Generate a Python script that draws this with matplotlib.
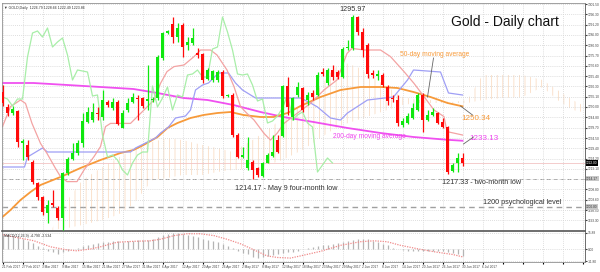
import matplotlib
matplotlib.use("Agg")
import matplotlib.pyplot as plt
import numpy as np

plt.rcParams['font.family'] = ['Liberation Sans', 'DejaVu Sans']
plt.rcParams['hatch.linewidth'] = 0.5

# ---- daily candles (93 bars) ----
opens = [1257.5, 1250.0, 1247.0, 1248.0, 1232.0, 1231.0, 1222.5, 1212.0, 1205.0, 1197.0,
         1202.0, 1199.5, 1194.5, 1217.0, 1224.0, 1227.0, 1232.0, 1242.5, 1243.5, 1247.0,
         1245.0, 1252.5, 1249.5, 1252.5, 1239.5, 1248.5, 1252.5, 1254.5, 1254.5, 1253.0,
         1253.5, 1254.5, 1274.5, 1287.0, 1291.5, 1285.0, 1291.0, 1281.0, 1282.0, 1277.0,
         1276.5, 1264.0, 1263.5, 1263.5, 1267.5, 1255.5, 1256.0, 1236.0, 1225.0, 1219.5,
         1222.5, 1219.5, 1215.5, 1222.0, 1225.5, 1233.5, 1235.5, 1260.5, 1245.0, 1256.0,
         1259.5, 1253.5, 1257.0, 1256.0, 1267.5, 1262.0, 1268.5, 1267.5, 1265.0, 1279.5,
         1279.5, 1295.0, 1287.5, 1281.0, 1267.0, 1265.5, 1266.0, 1260.0, 1254.5, 1253.5,
         1241.0, 1242.0, 1244.5, 1248.5, 1256.0, 1243.5, 1246.0, 1247.0, 1242.5, 1240.0,
         1218.0, 1222.0, 1224.5]
highs = [1261.0, 1251.5, 1250.5, 1248.5, 1234.0, 1233.5, 1223.5, 1212.5, 1205.5, 1203.5,
         1208.5, 1200.5, 1217.5, 1225.0, 1232.0, 1233.5, 1247.0, 1250.0, 1252.0, 1250.0,
         1258.5, 1253.5, 1254.5, 1253.5, 1248.5, 1254.5, 1257.0, 1256.0, 1255.0, 1271.0,
         1255.0, 1276.0, 1287.5, 1288.5, 1295.0, 1292.0, 1292.0, 1285.0, 1289.5, 1279.5,
         1277.0, 1269.5, 1268.5, 1268.5, 1268.5, 1256.5, 1257.0, 1237.0, 1230.0, 1235.0,
         1223.5, 1220.0, 1222.5, 1227.0, 1236.0, 1236.0, 1261.0, 1265.0, 1255.0, 1262.5,
         1260.0, 1257.5, 1258.5, 1267.5, 1269.5, 1269.5, 1271.0, 1268.5, 1280.0, 1283.5,
         1295.97, 1295.5, 1289.5, 1282.0, 1268.5, 1268.5, 1267.0, 1261.0, 1256.0, 1256.0,
         1244.5, 1247.0, 1252.0, 1257.0, 1257.0, 1248.5, 1249.5, 1247.5, 1244.5, 1240.5,
         1222.0, 1227.0, 1227.0]
lows = [1250.5, 1245.5, 1246.0, 1230.0, 1223.5, 1223.5, 1211.5, 1203.5, 1196.0, 1192.0,
        1200.0, 1193.5, 1188.5, 1216.0, 1223.5, 1226.0, 1230.0, 1242.0, 1242.5, 1243.5,
        1243.5, 1250.0, 1248.5, 1241.0, 1239.5, 1247.5, 1252.0, 1243.5, 1249.5, 1248.5,
        1252.5, 1253.5, 1273.5, 1286.5, 1282.0, 1282.5, 1275.0, 1278.5, 1281.0, 1274.5,
        1262.0, 1263.5, 1262.5, 1262.5, 1254.5, 1255.0, 1235.0, 1224.5, 1224.5, 1218.5,
        1214.17, 1215.0, 1215.0, 1222.0, 1225.0, 1227.0, 1235.0, 1246.0, 1243.5, 1255.0,
        1247.5, 1251.0, 1253.5, 1255.5, 1265.5, 1261.0, 1263.5, 1264.0, 1264.5, 1278.5,
        1278.5, 1286.0, 1275.0, 1264.5, 1264.5, 1263.5, 1260.0, 1251.0, 1252.5, 1240.5,
        1240.0, 1241.5, 1244.0, 1248.0, 1237.5, 1243.0, 1245.5, 1241.5, 1239.5, 1216.5,
        1217.5, 1217.33, 1220.5]
closes = [1252.0, 1247.0, 1249.0, 1232.5, 1233.0, 1225.0, 1212.5, 1205.0, 1197.5, 1201.0,
          1201.0, 1194.5, 1217.0, 1224.0, 1227.0, 1232.0, 1243.0, 1247.5, 1247.5, 1246.5,
          1253.5, 1251.0, 1252.5, 1241.5, 1247.0, 1252.0, 1255.0, 1254.0, 1250.5, 1254.0,
          1254.0, 1275.0, 1287.0, 1288.0, 1285.0, 1289.5, 1280.0, 1282.5, 1284.5, 1276.0,
          1263.5, 1268.5, 1268.0, 1267.5, 1255.5, 1256.0, 1236.0, 1225.0, 1226.0, 1223.5,
          1218.5, 1216.0, 1222.0, 1226.0, 1227.5, 1227.5, 1260.5, 1250.0, 1254.5, 1260.0,
          1248.5, 1256.0, 1255.0, 1266.0, 1266.5, 1268.5, 1265.0, 1265.0, 1279.0, 1280.0,
          1295.0, 1287.5, 1278.5, 1266.5, 1266.0, 1266.5, 1261.0, 1253.0, 1254.0, 1242.0,
          1243.0, 1245.5, 1249.5, 1256.0, 1243.5, 1246.0, 1247.5, 1242.0, 1240.0, 1217.5,
          1221.0, 1224.5, 1222.0]

date_labels = ['21 Feb 2017', '27 Feb 2017', '3 Mar 2017', '9 Mar 2017', '15 Mar 2017',
               '21 Mar 2017', '27 Mar 2017', '31 Mar 2017', '6 Apr 2017', '12 Apr 2017',
               '20 Apr 2017', '26 Apr 2017', '2 May 2017', '8 May 2017', '12 May 2017',
               '18 May 2017', '23 May 2017', '29 May 2017', '2 Jun 2017', '8 Jun 2017',
               '14 Jun 2017', '20 Jun 2017', '26 Jun 2017', '30 Jun 2017', '6 Jul 2017']

# ---- indicator lines (bar index, price) ----
tenkan_x = [0, 1.6, 3.6, 4.6, 5.9, 7.6, 8.9, 10.6, 11.6, 12.9, 14.9, 16.3, 18.3, 19.6, 20.6,
            21.6, 25.6, 28.3, 30.3, 31.6, 32.9, 34.3, 36.3, 38.3, 39.6, 41.6, 42.9, 44.9,
            46.3, 47.6, 48.9, 50.3, 52.3, 53.6, 54.9, 56.3, 58.9, 61.6, 64.3, 66.9, 68.9,
            69.9, 72.3, 75.6, 77.6, 80.3, 82.3, 84.3, 86.3, 88.3, 88.9, 92]
tenkan_y = [1240.2, 1250.2, 1253.5, 1251.8, 1241.8, 1231.8, 1226.8, 1219.3, 1215.2, 1212.7,
            1212.7, 1218.5, 1225.2, 1230.2, 1240.2, 1241.8, 1241.8, 1248.5, 1253.5, 1261.8,
            1267.7, 1270.2, 1271.0, 1275.2, 1278.5, 1278.5, 1276.0, 1268.5, 1260.2, 1250.2,
            1246.8, 1243.5, 1236.8, 1233.5, 1236.8, 1241.8, 1246.8, 1251.8, 1258.5, 1263.5,
            1276.8, 1279.3, 1278.5, 1278.5, 1275.2, 1267.7, 1261.8, 1255.2, 1248.5, 1245.2,
            1237.7, 1236.0]
kijun_x = [0, 4.4, 5, 8, 9, 25.6, 26.6, 28.6, 30.6, 31.6, 33.2, 34.6, 36.6, 37.6, 38.6, 40,
           41.2, 43.2, 45.2, 46.6, 48, 50.6, 59.6, 61.6, 63, 65.6, 67.6, 69, 73, 78.2, 81,
           82.2, 87.6, 89.2, 92]
kijun_y = [1220.0, 1220.0, 1225.0, 1229.5, 1227.5, 1227.5, 1229.5, 1232.0, 1234.5, 1237.0,
           1240.0, 1244.5, 1245.5, 1248.5, 1258.5, 1261.0, 1262.0, 1267.0, 1267.0, 1262.0,
           1258.5, 1254.5, 1254.5, 1252.0, 1250.0, 1244.5, 1243.5, 1247.0, 1253.5, 1255.0,
           1263.5, 1268.5, 1267.5, 1257.0, 1256.0]
ma50_x = [0, 1.6, 3.6, 5.6, 7.6, 11.6, 15.6, 19.6, 23.6, 26.2, 28.2, 31, 33, 35, 37.6, 40.2,
          43, 45.6, 48.2, 51.6, 54.2, 57, 59.6, 63.6, 67.6, 71.6, 75.6, 79, 82.2, 85.6, 89, 92]
ma50_y = [1195.0, 1198.5, 1203.5, 1207.5, 1211.0, 1215.0, 1219.5, 1223.5, 1227.0, 1228.5,
          1231.0, 1235.0, 1239.5, 1242.0, 1244.5, 1246.0, 1247.0, 1247.5, 1246.0, 1245.0,
          1245.0, 1247.0, 1250.5, 1255.0, 1258.5, 1260.0, 1260.0, 1259.5, 1257.5, 1255.0,
          1252.0, 1250.34]
ma200_x = [0, 6.2, 13, 19.6, 26.2, 31, 36.2, 41, 46.2, 51.6, 56.2, 62.2, 69, 75.6, 82.2, 89, 92]
ma200_y = [1262.0, 1262.0, 1261.0, 1260.0, 1259.0, 1257.0, 1254.5, 1253.5, 1251.0, 1247.5,
           1245.0, 1242.5, 1239.5, 1237.0, 1235.0, 1233.6, 1233.13]
cloud_x = [10, 13, 16, 20, 23, 26, 30, 33, 36, 40, 43, 46, 50, 53, 56, 60, 63, 66, 68, 71, 74,
           77, 80, 83, 86, 90, 93, 96, 100, 104, 108, 111, 114, 116]
cloud_top = [1189.5, 1203.5, 1213.5, 1220.0, 1224.5, 1228.5, 1232.5, 1234.5, 1233.5, 1231.0,
             1229.5, 1227.5, 1233.5, 1238.5, 1244.5, 1251.0, 1258.5, 1268.5, 1272.5, 1270.0,
             1265.0, 1260.0, 1255.0, 1253.5, 1253.5, 1252.5, 1253.5, 1266.0, 1266.0, 1266.0,
             1263.5, 1258.5, 1253.5, 1251.0]
cloud_bot = [1188.5, 1189.5, 1191.0, 1193.5, 1196.0, 1201.0, 1213.5, 1214.5, 1216.0, 1216.0,
             1217.5, 1218.5, 1219.5, 1221.0, 1223.5, 1228.5, 1233.5, 1238.5, 1241.0, 1243.5,
             1246.0, 1248.5, 1251.0, 1252.0, 1252.0, 1252.0, 1252.0, 1253.5, 1254.5, 1255.0,
             1260.0, 1253.5, 1248.5, 1247.5]

# ---- MACD(12,26,9) ----
macd_main = [14.1, 14.1, 13.2, 12.6, 10.3, 8.2, 6.2, 3.3, 0.9, -1.5,
             -2.9, -4.4, -2.9, -1.5, 0.3, 1.5, 3.3, 4.4, 5.3, 5.9,
             6.8, 7.3, 7.7, 7.7, 7.3, 7.7, 8.2, 8.5, 8.8, 9.1,
             9.7, 12.1, 13.8, 15.0, 15.6, 15.6, 15.0, 14.1, 13.2, 12.1,
             10.3, 9.1, 7.9, 6.8, 5.3, 3.3, 0.9, -1.5, -3.5, -5.0,
             -7.3, -8.8, -7.9, -6.4, -5.5, -5.0, -3.8, -2.9, -2.6, -2.0,
             0.3, 0.9, 1.8, 2.9, 3.8, 4.4, 5.3, 5.9, 6.8, 7.7,
             9.1, 10.3, 10.3, 9.7, 8.2, 6.8, 5.3, 3.8, 1.5, 0.3,
             -1.1, -2.0, -2.0, -2.0, -1.5, -2.0, -1.5, -1.5, -2.0, -2.9,
             -3.5, -4.4, -6.4]
signal_x = [0, 6.3, 9.6, 12.9, 14.9, 17.6, 19.6, 22.9, 26.3, 29.6, 31.6, 34.3, 36.9, 39.6,
            42.3, 44.9, 47.6, 50.3, 52.9, 54.9, 57.6, 59.6, 63.6, 67.6, 71.6, 74.3, 76.9,
            79.6, 83.2, 86.6, 90, 92]
signal_y = [14.1, 8.2, 2.4, -0.6, -1.5, 0.3, 2.4, 6.8, 7.7, 8.2, 9.7, 13.2, 15.0, 15.0, 13.2,
            9.7, 5.3, -0.6, -6.4, -7.9, -8.5, -6.4, -2.0, 3.8, 7.3, 8.2, 7.3, 3.8, 0.3, -2.6,
            -5.0, -7.3]

price_ticks = [1301.5, 1296.3, 1291.2, 1286.0, 1280.9, 1275.7, 1270.6, 1265.4, 1260.3,
               1255.1, 1250.0, 1244.8, 1239.7, 1234.5, 1229.4, 1224.2, 1219.1, 1213.9,
               1208.8, 1203.6, 1198.5, 1193.3]
may_low = 1214.17
july_low = 1217.33
psych_level = 1200.0

idx = np.arange(len(closes))
o = np.array(opens); c = np.array(closes)
up = c >= o
YMIN, YMAX = 1188.0, 1302.0

fig = plt.figure(figsize=(6, 2.72), dpi=100)
ax = fig.add_axes([2 / 600, 1 - 231 / 272, 583 / 600, 228 / 272])
ax2 = fig.add_axes([2 / 600, 1 - 262 / 272, 583 / 600, 30 / 272], sharex=ax)

grid_kw = dict(color='#d4d4d4', linestyle=(0, (1, 1.5)), linewidth=0.6)

# cloud
ax.fill_between(cloud_x, cloud_bot, cloud_top, facecolor='none', edgecolor='#f9d6b9',
                hatch='|||', linewidth=0, zorder=1)

ax.plot(ma200_x, ma200_y, color='#f050f0', lw=1.3, zorder=2)
ax.plot(ma50_x, ma50_y, color='#f79a3a', lw=1.3, zorder=2)
ax.plot(kijun_x, kijun_y, color='#9f9ff5', lw=0.9, zorder=2)
ax.plot(tenkan_x, tenkan_y, color='#f3a3a3', lw=0.9, zorder=2)
ax.plot(idx[:-26], c[26:], color='#a8eea8', lw=0.9, zorder=2)   # chikou span

colors = np.where(up, '#0ee80e', '#ff0a0a')
ax.vlines(idx, lows, highs, colors=colors, lw=0.9, zorder=3)
ax.bar(idx, np.maximum(np.abs(c - o), 0.5), bottom=np.minimum(o, c), width=0.74,
       color=colors, linewidth=0, zorder=4)

ax.axhline(may_low, color='#a0a0a0', lw=0.7, ls=(0, (4, 3)), zorder=1)
ax.axhline(psych_level, color='#a0a0a0', lw=1.0, ls=(0, (4, 3)), zorder=1)
ax.axhline(closes[-1], color='#f2c4c4', lw=0.6, zorder=1)

ax.set_xlim(-0.1, 116.5)
ax.set_ylim(YMIN, YMAX)
ax.set_xticks(range(0, 117, 4))
ax.set_yticks(price_ticks)
ax.set_yticklabels(['%.2f' % v for v in price_ticks])
ax.yaxis.tick_right()
ax.tick_params(axis='y', labelsize=2.3, length=1.2, pad=0.6, colors='#444444')
ax.tick_params(axis='x', labelbottom=False, length=0)
ax.grid(True, **grid_kw)
for s in ax.spines.values():
    s.set_color('#909090'); s.set_linewidth(0.6)
ax.spines['bottom'].set_color('#555555'); ax.spines['bottom'].set_linewidth(1.2)
ax.spines['right'].set_color('#555555')

# annotations
txt = '#333333'
ax.text(70, highs[70] + 1.2, '1295.97', fontsize=5.2, color=txt, ha='center', va='bottom')
ax.text(0.863, 0.917, 'Gold - Daily chart', transform=ax.transAxes, fontsize=10,
        ha='center', va='center', color='#111111')
ax.text(86.4, 1276.5, '50-day moving average', fontsize=4.8, color='#f79a3a',
        ha='center', va='center')
ax.plot([86.2, 85.0], [1274.5, 1255.0], color='#666666', lw=0.6, zorder=5)
ax.text(94.6, 1244.5, '1250.34', fontsize=5.8, color='#f79a3a', ha='center', va='center')
ax.plot([91.6, 94.0], [1250.5, 1246.0], color='#666666', lw=0.6, zorder=5)
ax.text(73.4, 1235.5, '200-day moving average', fontsize=4.8, color='#ee44ee',
        ha='center', va='center')
ax.text(96.4, 1234.0, '1233.13', fontsize=5.8, color='#ee44ee', ha='center', va='center')
ax.plot([92.2, 94.2], [1231.5, 1235.0], color='#666666', lw=0.6, zorder=5)
ax.text(56.8, 1209.5, '1214.17 - May 9 four-month low', fontsize=5.2, color=txt,
        ha='center', va='center')
ax.text(95.8, 1212.5, '1217.33 - two-month low', fontsize=5.2, color=txt,
        ha='center', va='center')
ax.text(104, 1202.0, '1200 psychological level', fontsize=5.2, color=txt,
        ha='center', va='center')
ax.text(0.004, 0.985, '\u25bc GOLD,Daily  1226.79 1228.66 1222.49 1223.86',
        transform=ax.transAxes, fontsize=2.6, color='#333333', ha='left', va='top')

# right-axis price boxes
for val, bg, fg in [(closes[-1], '#000000', '#ffffff'), (may_low, '#c8c8c8', '#333333'),
                    (psych_level, '#c8c8c8', '#333333')]:
    ax.text(1.002, (val - YMIN) / (YMAX - YMIN), '%.2f' % val,
            transform=ax.transAxes, fontsize=2.3, color=fg, ha='left', va='center',
            bbox=dict(boxstyle='square,pad=0.2', fc=bg, ec='none'), zorder=6)

# MACD panel
ax2.vlines(idx, 0, macd_main, color='#b4b4b4', lw=0.9)
ax2.plot(signal_x, signal_y, color='#f08a8a', lw=0.9, ls=(0, (1, 1)))
ax2.set_ylim(-12.3, 16.7)
ax2.set_yticks([15.88, 0.0, -11.8])
ax2.set_yticklabels(['15.88', '0.00', '-11.80'])
ax2.yaxis.tick_right()
ax2.tick_params(axis='y', labelsize=2.3, length=1.2, pad=0.6, colors='#444444')
ax2.set_xticks(range(0, 117, 4))
ax2.set_xticklabels(date_labels + [''] * (len(range(0, 117, 4)) - len(date_labels)),
                    fontsize=2.3, ha='left', color='#444444')
ax2.tick_params(axis='x', length=1.5, pad=1)
ax2.grid(True, **grid_kw)
for s in ax2.spines.values():
    s.set_color('#909090'); s.set_linewidth(0.6)
ax2.spines['top'].set_visible(False)
ax2.spines['right'].set_color('#555555')
ax2.text(0.004, 0.95, 'MACD(12,26,9) -4.790 -2.534', transform=ax2.transAxes,
         fontsize=2.6, color='#333333', ha='left', va='top')

fig.savefig('out.png', dpi=100)
